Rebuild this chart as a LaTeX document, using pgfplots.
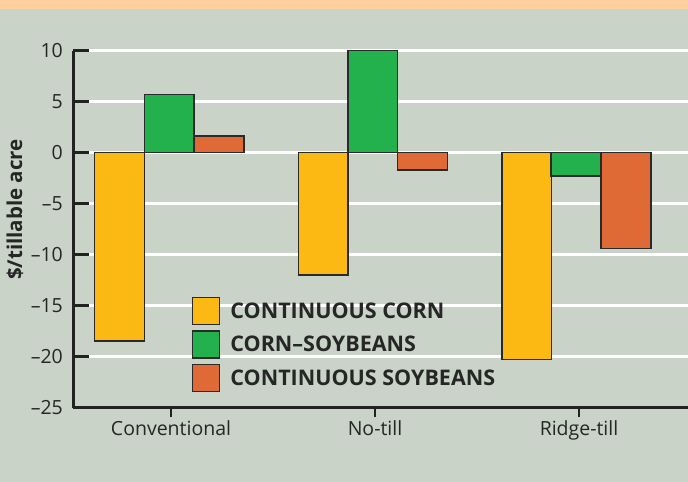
\documentclass[border=0pt]{standalone}
\usepackage{fontspec}
\setmainfont{Open Sans}
\usepackage{pgfplots}
\pgfplotsset{compat=1.18}
\definecolor{bg}{HTML}{C9D3C8}
\definecolor{peach}{HTML}{FFCF9D}
\definecolor{ccorn}{HTML}{FDB913}
\definecolor{csoy}{HTML}{23B14D}
\definecolor{cont}{HTML}{DF6A35}
\definecolor{edge}{HTML}{2A2A2A}
\definecolor{axc}{HTML}{222222}
\begin{document}
\begin{tikzpicture}[x=1bp,y=1bp]
\fill[bg] (0,0) rectangle (688,482);
\fill[peach] (0,472.5) rectangle (688,482);
\begin{axis}[
  at={(73,73)}, anchor=south west,
  scale only axis, width=615bp, height=357bp,
  xmin=73, xmax=688, ymin=-25, ymax=10,
  axis x line*=bottom, axis y line*=left,
  axis line style={line width=3bp, color=axc},
  xtick align=outside, ytick align=inside,
  xtick style={/pgfplots/major tick length=9bp, line width=2.5bp, color=axc},
  ytick style={/pgfplots/major tick length=16bp, line width=2.5bp, color=axc},
  ytick={-25,-20,...,10},
  yticklabels={--25,--20,--15,--10,--5,0,5,10},
  xtick={171,375,579},
  xticklabels={Conventional,No-till,Ridge-till},
  ymajorgrids, major grid style={white, line width=2.3bp},
  tick label style={font=\fontsize{19.5bp}{22bp}\selectfont, color=black!85},
  yticklabel style={inner sep=0pt, xshift=-10bp},
  xticklabel style={inner sep=0pt, yshift=-9bp},
  ylabel={\$/tillable acre},
  ylabel style={font=\bfseries\fontsize{20.5bp}{24bp}\selectfont, color=black!85, at={(axis description cs:-0.0943,0.5546)}, anchor=center},
  ybar, bar shift=0pt, bar width=49.7,
  legend style={at={(axis description cs:0.193,0.311)}, anchor=north west, draw=none, fill=none, inner sep=0pt,
    font=\bfseries\fontsize{21.5bp}{24bp}\selectfont, text=black!85, row sep=5bp,
    nodes={inner sep=0pt, anchor=west}},
  legend cell align=left,
  legend image code/.code={\draw[#1, line width=1.5bp] (0bp,-13.5bp) rectangle (27bp,13.5bp);},
  legend style={/tikz/every odd column/.append style={column sep=10bp}},
]
\addplot[fill=ccorn, draw=edge, line width=1.5bp] coordinates {(119.5,-18.5) (323.1,-12.0) (526.7,-20.3)};
\addlegendentry{CONTINUOUS CORN}
\addplot[fill=csoy, draw=edge, line width=1.5bp] coordinates {(169.2,5.7) (372.8,10.0) (576.0,-2.3)};
\addlegendentry{CORN--SOYBEANS}
\addplot[fill=cont, draw=edge, line width=1.5bp] coordinates {(218.9,1.6) (422.5,-1.7) (626.0,-9.4)};
\addlegendentry{CONTINUOUS SOYBEANS}
\end{axis}
\pgfresetboundingbox
\useasboundingbox (0,0) rectangle (688,482);
\end{tikzpicture}
\end{document}
